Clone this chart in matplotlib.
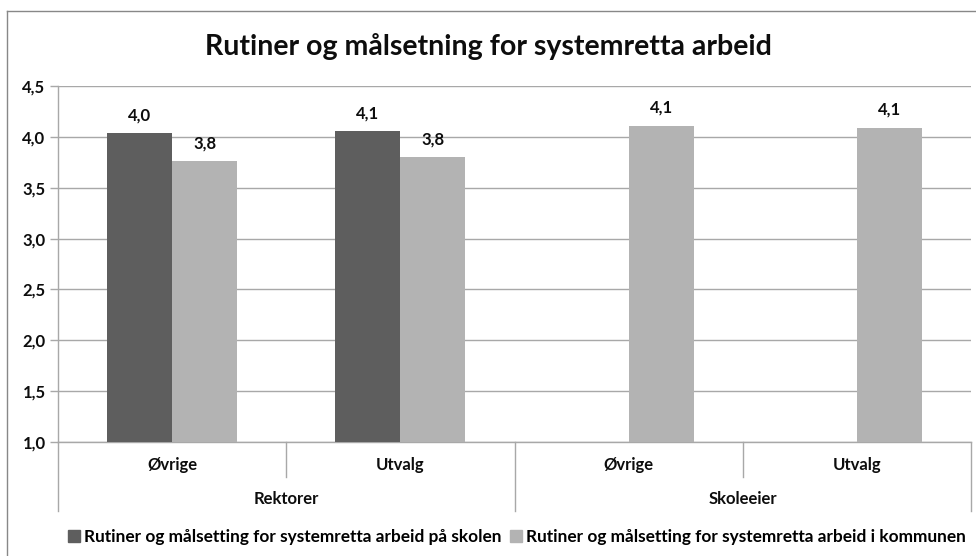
import numpy as np
import matplotlib.pyplot as plt
from matplotlib.lines import Line2D

plt.rcParams['font.family'] = ['Lato', 'DejaVu Sans']

groups = ['Rektorer', 'Skoleeier']
subcats = ['Øvrige', 'Utvalg', 'Øvrige', 'Utvalg']
skolen = [4.04, 4.06, np.nan, np.nan]
kommunen = [3.76, 3.80, 4.11, 4.09]
series_names = ['Rutiner og målsetting for systemretta arbeid på skolen',
                'Rutiner og målsetting for systemretta arbeid i kommunen']
yticks = [1.0, 1.5, 2.0, 2.5, 3.0, 3.5, 4.0, 4.5]

dark = '#5e5e5e'
light = '#b3b3b3'
grid = '#a8a8a8'
txt = '#0d0d0d'
fs = 12

fig = plt.figure(figsize=(9.76, 5.56), dpi=100)
ax = fig.add_axes([58/976, 1-442/556, 913/976, 356/556])

x = np.arange(len(subcats))
w = 0.285
ax.bar(x - w/2, np.array(skolen) - 1.0, w, bottom=1.0, color=dark, zorder=3)
ax.bar(x + w/2, np.array(kommunen) - 1.0, w, bottom=1.0, color=light, zorder=3)

for xs, vals in ((x - w/2, skolen), (x + w/2, kommunen)):
    for xi, v in zip(xs, vals):
        if np.isnan(v):
            continue
        ax.annotate(f'{v:.1f}'.replace('.', ','), (xi, v), xytext=(0, 7),
                    textcoords='offset points', ha='center', va='bottom',
                    fontsize=fs, fontweight='bold', color=txt)

ax.set_xlim(-0.5, 3.5)
ax.set_ylim(1.0, 4.5)
ax.set_yticks(yticks)
ax.set_yticklabels([f'{t:.1f}'.replace('.', ',') for t in yticks],
                   fontsize=fs, fontweight='bold', color=txt)
ax.tick_params(axis='y', length=6, color=grid, width=1, pad=3)
ax.set_xticks([])
ax.grid(axis='y', color=grid, linewidth=1, zorder=0)
for s in ('top', 'right'):
    ax.spines[s].set_visible(False)
for s in ('left', 'bottom'):
    ax.spines[s].set_color(grid)
    ax.spines[s].set_linewidth(1)

trans = ax.get_xaxis_transform()
for xs in (0.5, 2.5):
    ax.plot([xs, xs], [0, -0.098], transform=trans, color=grid, lw=1, clip_on=False)
for xs in (-0.5, 1.5, 3.5):
    ax.plot([xs, xs], [0, -0.194], transform=trans, color=grid, lw=1, clip_on=False)

for xi, lab in zip(x, subcats):
    ax.text(xi, -0.065, lab, transform=trans, ha='center', va='center',
            fontsize=fs, fontweight='bold', color=txt)
for gi, g in enumerate(groups):
    ax.text(gi*2 + 0.5, -0.16, g, transform=trans, ha='center', va='center',
            fontsize=fs, fontweight='bold', color=txt)

fig.text(0.5, 1-47/556, 'Rutiner og målsetning for systemretta arbeid',
         ha='center', va='center', fontsize=20.5, fontweight='bold', color=txt)

handles = [Line2D([], [], marker='s', ls='', color=dark, markersize=8.5),
           Line2D([], [], marker='s', ls='', color=light, markersize=8.5)]
fig.legend(handles, series_names, loc='center', bbox_to_anchor=(0.53, 1-537/556),
           ncol=2, frameon=False, handlelength=0.6, handletextpad=0.3,
           columnspacing=0.5, prop={'size': 12.4, 'weight': 'bold'})

# outer chart border (cropped on right and bottom)
fig.add_artist(Line2D([7/976, 1], [1-11/556, 1-11/556], transform=fig.transFigure, color='#888888', lw=1))
fig.add_artist(Line2D([7/976, 7/976], [0, 1-11/556], transform=fig.transFigure, color='#888888', lw=1))

fig.savefig('out.png', dpi=100)
